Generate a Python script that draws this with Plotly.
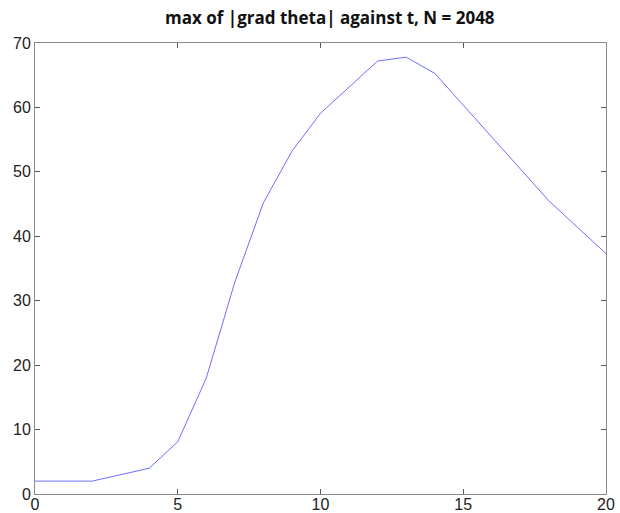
import plotly.graph_objects as go

# values
t = [0, 1, 2, 4, 5, 6, 7, 8, 9, 10, 12, 13, 14, 18, 20]
max_grad = [2.0, 2.0, 2.0, 4.0, 8.1, 18.0, 32.9, 45.2, 53.2, 59.1, 67.2, 67.8, 65.3, 45.5, 37.3]

x_ticks = [0, 5, 10, 15, 20]
y_ticks = [0, 10, 20, 30, 40, 50, 60, 70]

AXIS_COLOR = "#8a8a8a"
TICK_FONT = {"family": "Liberation Sans, Arial, sans-serif", "size": 16, "color": "#222"}

fig = go.Figure()
fig.add_trace(
    go.Scatter(
        x=t,
        y=max_grad,
        mode="lines",
        line={"color": "#6f6fff", "width": 1},
        showlegend=False,
    )
)

axis_style = {
    "showgrid": False,
    "zeroline": False,
    "showline": True,
    "linecolor": AXIS_COLOR,
    "linewidth": 1,
    "mirror": "ticks",
    "ticks": "inside",
    "ticklen": 5,
    "tickcolor": "#555",
    "tickfont": TICK_FONT,
    "automargin": False,
}

fig.update_layout(
    width=620,
    height=513,
    paper_bgcolor="white",
    plot_bgcolor="white",
    margin={"l": 35, "r": 14, "t": 43, "b": 19, "autoexpand": False},
    title={
        "text": "<b>max of |grad theta| against t, N = 2048</b>",
        "x": 0.532, "xanchor": "center",
        "y": 0.965, "yanchor": "middle",
        "font": {"family": "Open Sans, sans-serif", "size": 17, "color": "#111"},
    },
    xaxis={"range": [0, 20], "tickvals": x_ticks, "ticklabelstandoff": -4, **axis_style},
    yaxis={"range": [0, 70], "tickvals": y_ticks, **axis_style},
)

# drop the default 8px body margin so the figure fills the window exactly
fig.write_html(
    "out.html",
    config={"displayModeBar": False},
    post_script="document.body.style.margin = '0'; document.body.style.overflow = 'hidden';",
)
